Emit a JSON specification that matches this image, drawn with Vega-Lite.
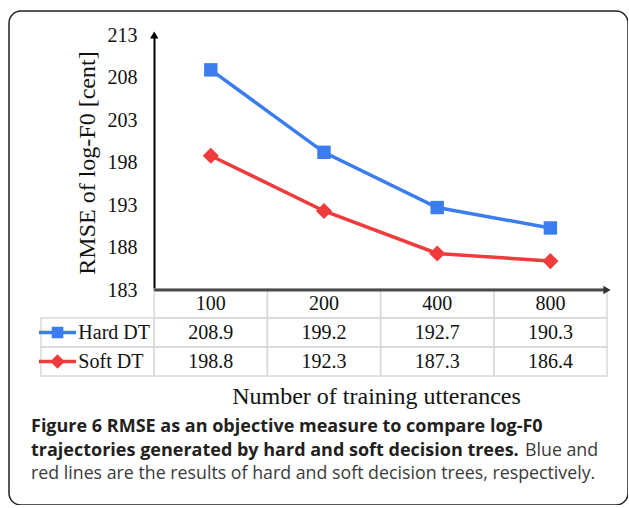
{
  "$schema": "https://vega.github.io/schema/vega-lite/v6.json",
  "width": 619,
  "height": 494,
  "padding": {"left": 9, "top": 11, "right": 0, "bottom": 0},
  "background": "white",
  "config": {
    "view": {"stroke": "#222222", "strokeWidth": 1.5, "cornerRadius": 12},
    "axis": {"grid": false}
  },
  "datasets": {
    "rmse": [
      {"n": "100", "series": "Hard DT", "rmse": 208.9},
      {"n": "200", "series": "Hard DT", "rmse": 199.2},
      {"n": "400", "series": "Hard DT", "rmse": 192.7},
      {"n": "800", "series": "Hard DT", "rmse": 190.3},
      {"n": "100", "series": "Soft DT", "rmse": 198.8},
      {"n": "200", "series": "Soft DT", "rmse": 192.3},
      {"n": "400", "series": "Soft DT", "rmse": 187.3},
      {"n": "800", "series": "Soft DT", "rmse": 186.4}
    ],
    "header": [{"n": "100"}, {"n": "200"}, {"n": "400"}, {"n": "800"}],
    "caption": [
      {"line": 1, "seg": "a", "w": "bold", "text": "Figure 6 RMSE as an objective measure to compare log-F0"},
      {"line": 2, "seg": "a", "w": "bold", "text": "trajectories generated by hard and soft decision trees."},
      {"line": 2, "seg": "b", "w": "normal", "text": "Blue and"},
      {"line": 3, "seg": "a", "w": "normal", "text": "red lines are the results of hard and soft decision trees, respectively."}
    ],
    "one": [{}]
  },
  "resolve": {"scale": {"x": "independent", "y": "independent", "shape": "independent", "size": "independent"}},
  "layer": [
    {
      "data": {"name": "rmse"},
      "mark": {"type": "rect", "fill": "white", "fillOpacity": 0, "stroke": "#d9d9d9", "strokeWidth": 1.5},
      "encoding": {
        "x": {"field": "n", "type": "nominal",
          "scale": {"type": "band", "domain": ["lbl", "100", "200", "400", "800"], "range": [32, 598], "paddingInner": 0, "paddingOuter": 0},
          "axis": {"orient": "bottom", "offset": -129, "labels": false, "ticks": false, "domain": false,
            "title": "Number of training utterances", "titleFont": "Liberation Serif", "titleFontSize": 24,
            "titleFontWeight": "normal", "titleColor": "#111111", "titlePadding": 8, "titleX": 367}},
        "y": {"field": "series", "type": "nominal",
          "scale": {"type": "band", "domain": ["hdr", "Hard DT", "Soft DT"], "range": [278, 365], "paddingInner": 0, "paddingOuter": 0},
          "axis": null}
      }
    },
    {
      "data": {"name": "header"},
      "mark": {"type": "rect", "fill": "white", "fillOpacity": 0, "stroke": "#d9d9d9", "strokeWidth": 1.5},
      "encoding": {
        "x": {"field": "n", "type": "nominal",
          "scale": {"type": "band", "domain": ["lbl", "100", "200", "400", "800"], "range": [32, 598], "paddingInner": 0, "paddingOuter": 0},
          "axis": null},
        "y": {"datum": "hdr", "type": "nominal",
          "scale": {"type": "band", "domain": ["hdr", "Hard DT", "Soft DT"], "range": [278, 365], "paddingInner": 0, "paddingOuter": 0},
          "axis": null}
      }
    },
    {
      "data": {"name": "rmse"},
      "transform": [{"filter": "datum.n == '100'"}],
      "mark": {"type": "rect", "fill": "white", "fillOpacity": 0, "stroke": "#d9d9d9", "strokeWidth": 1.5},
      "encoding": {
        "x": {"datum": "lbl", "type": "nominal",
          "scale": {"type": "band", "domain": ["lbl", "100", "200", "400", "800"], "range": [32, 598], "paddingInner": 0, "paddingOuter": 0},
          "axis": null},
        "y": {"field": "series", "type": "nominal",
          "scale": {"type": "band", "domain": ["hdr", "Hard DT", "Soft DT"], "range": [278, 365], "paddingInner": 0, "paddingOuter": 0},
          "axis": null}
      }
    },
    {
      "data": {"name": "rmse"},
      "mark": {"type": "text", "font": "Liberation Serif", "fontSize": 20, "color": "#111111", "baseline": "middle"},
      "encoding": {
        "x": {"field": "n", "type": "nominal",
          "scale": {"type": "band", "domain": ["lbl", "100", "200", "400", "800"], "range": [32, 598], "paddingInner": 0, "paddingOuter": 0},
          "axis": null},
        "y": {"field": "series", "type": "nominal",
          "scale": {"type": "band", "domain": ["hdr", "Hard DT", "Soft DT"], "range": [278, 365], "paddingInner": 0, "paddingOuter": 0},
          "axis": null},
        "text": {"field": "rmse", "type": "quantitative", "format": ".1f"}
      }
    },
    {
      "data": {"name": "header"},
      "mark": {"type": "text", "font": "Liberation Serif", "fontSize": 20, "color": "#111111", "baseline": "middle"},
      "encoding": {
        "x": {"field": "n", "type": "nominal",
          "scale": {"type": "band", "domain": ["lbl", "100", "200", "400", "800"], "range": [32, 598], "paddingInner": 0, "paddingOuter": 0},
          "axis": null},
        "y": {"datum": "hdr", "type": "nominal",
          "scale": {"type": "band", "domain": ["hdr", "Hard DT", "Soft DT"], "range": [278, 365], "paddingInner": 0, "paddingOuter": 0},
          "axis": null},
        "text": {"field": "n", "type": "nominal"}
      }
    },
    {
      "data": {"name": "rmse"},
      "transform": [{"filter": "datum.n == '100'"}],
      "mark": {"type": "text", "font": "Liberation Serif", "fontSize": 20, "color": "#111111", "baseline": "middle", "align": "left"},
      "encoding": {
        "x": {"datum": "lbl", "type": "nominal", "bandPosition": 0.33,
          "scale": {"type": "band", "domain": ["lbl", "100", "200", "400", "800"], "range": [32, 598], "paddingInner": 0, "paddingOuter": 0},
          "axis": null},
        "y": {"field": "series", "type": "nominal",
          "scale": {"type": "band", "domain": ["hdr", "Hard DT", "Soft DT"], "range": [278, 365], "paddingInner": 0, "paddingOuter": 0},
          "axis": null},
        "text": {"field": "series", "type": "nominal"}
      }
    },
    {
      "data": {"name": "rmse"},
      "transform": [{"filter": "datum.n == '100'"}],
      "mark": {"type": "point", "filled": true, "size": 1369, "strokeWidth": 3.5, "opacity": 1},
      "encoding": {
        "x": {"datum": "lbl", "type": "nominal", "bandPosition": 0.146,
          "scale": {"type": "band", "domain": ["lbl", "100", "200", "400", "800"], "range": [32, 598], "paddingInner": 0, "paddingOuter": 0},
          "axis": null},
        "y": {"field": "series", "type": "nominal",
          "scale": {"type": "band", "domain": ["hdr", "Hard DT", "Soft DT"], "range": [278, 365], "paddingInner": 0, "paddingOuter": 0},
          "axis": null},
        "shape": {"field": "series", "type": "nominal", "legend": null,
          "scale": {"domain": ["Hard DT", "Soft DT"], "range": ["M-1,0H1M-0.22,-0.22H0.22V0.22H-0.22Z", "M-1,0H1M0,-0.26L0.26,0L0,0.26L-0.26,0Z"]}},
        "color": {"field": "series", "type": "nominal", "legend": null,
          "scale": {"domain": ["Hard DT", "Soft DT"], "range": ["#3b7def", "#ef3b3b"]}},
        "stroke": {"field": "series", "type": "nominal", "legend": null,
          "scale": {"domain": ["Hard DT", "Soft DT"], "range": ["#3b7def", "#ef3b3b"]}}
      }
    },
    {
      "data": {"name": "one"},
      "mark": {"type": "rule", "color": "#4a4a4a", "strokeWidth": 3},
      "encoding": {
        "x": {"datum": "100", "type": "nominal", "bandPosition": 0,
          "scale": {"type": "band", "domain": ["lbl", "100", "200", "400", "800"], "range": [32, 598], "paddingInner": 0, "paddingOuter": 0},
          "axis": null},
        "x2": {"datum": "800", "bandPosition": 1},
        "y": {"datum": 183, "type": "quantitative",
          "scale": {"domain": [183, 213], "range": [279, 24], "nice": false, "zero": false},
          "axis": null}
      }
    },
    {
      "data": {"name": "one"},
      "mark": {"type": "point", "shape": "triangle-right", "filled": true, "size": 70, "color": "#333333", "opacity": 1},
      "encoding": {
        "x": {"datum": "800", "type": "nominal", "bandPosition": 1,
          "scale": {"type": "band", "domain": ["lbl", "100", "200", "400", "800"], "range": [32, 598], "paddingInner": 0, "paddingOuter": 0},
          "axis": null},
        "y": {"datum": 183, "type": "quantitative",
          "scale": {"domain": [183, 213], "range": [279, 24], "nice": false, "zero": false},
          "axis": null}
      }
    },
    {
      "data": {"name": "one"},
      "mark": {"type": "point", "shape": "triangle-up", "filled": true, "size": 70, "color": "#000000", "opacity": 1},
      "encoding": {
        "x": {"datum": "100", "type": "nominal", "bandPosition": 0,
          "scale": {"type": "band", "domain": ["lbl", "100", "200", "400", "800"], "range": [32, 598], "paddingInner": 0, "paddingOuter": 0},
          "axis": null},
        "y": {"datum": 213, "type": "quantitative",
          "scale": {"domain": [183, 213], "range": [279, 24], "nice": false, "zero": false},
          "axis": null}
      }
    },
    {
      "data": {"name": "rmse"},
      "mark": {"type": "line", "strokeWidth": 3.5},
      "encoding": {
        "x": {"field": "n", "type": "nominal",
          "scale": {"type": "band", "domain": ["lbl", "100", "200", "400", "800"], "range": [32, 598], "paddingInner": 0, "paddingOuter": 0},
          "axis": null},
        "y": {"field": "rmse", "type": "quantitative",
          "scale": {"domain": [183, 213], "range": [279, 24], "nice": false, "zero": false},
          "axis": {"orient": "left", "offset": -145, "values": [183, 188, 193, 198, 203, 208, 213], "ticks": false,
            "labelPadding": 17, "domainColor": "#000000", "domainWidth": 2, "labelFont": "Liberation Serif",
            "labelFontSize": 20, "labelColor": "#111111", "title": "RMSE of log-F0 [cent]", "titleFont": "Liberation Serif",
            "titleFontSize": 24, "titleFontWeight": "normal", "titleColor": "#111111", "titlePadding": 8, "grid": false}},
        "color": {"field": "series", "type": "nominal", "legend": null,
          "scale": {"domain": ["Hard DT", "Soft DT"], "range": ["#3b7def", "#ef3b3b"]}}
      }
    },
    {
      "data": {"name": "rmse"},
      "mark": {"type": "point", "filled": true, "opacity": 1},
      "encoding": {
        "x": {"field": "n", "type": "nominal",
          "scale": {"type": "band", "domain": ["lbl", "100", "200", "400", "800"], "range": [32, 598], "paddingInner": 0, "paddingOuter": 0},
          "axis": null},
        "y": {"field": "rmse", "type": "quantitative",
          "scale": {"domain": [183, 213], "range": [279, 24], "nice": false, "zero": false},
          "axis": null},
        "shape": {"field": "series", "type": "nominal", "legend": null,
          "scale": {"domain": ["Hard DT", "Soft DT"], "range": ["square", "diamond"]}},
        "size": {"field": "series", "type": "ordinal", "legend": null,
          "scale": {"domain": ["Hard DT", "Soft DT"], "range": [180, 260]}},
        "color": {"field": "series", "type": "nominal", "legend": null,
          "scale": {"domain": ["Hard DT", "Soft DT"], "range": ["#3b7def", "#ef3b3b"]}}
      }
    },
    {
      "data": {"name": "caption"},
      "transform": [{"filter": "datum.w == 'bold'"}],
      "mark": {"type": "text", "font": "Open Sans", "fontSize": 18, "fontWeight": "bold", "color": "#231f20", "align": "left", "baseline": "middle"},
      "encoding": {
        "x": {"field": "seg", "type": "nominal", "scale": {"type": "point", "domain": ["a", "b"], "range": [22, 516], "padding": 0}, "axis": null},
        "y": {"field": "line", "type": "ordinal", "scale": {"type": "point", "domain": [1, 2, 3], "range": [416, 463], "padding": 0}, "axis": null},
        "text": {"field": "text", "type": "nominal"}
      }
    },
    {
      "data": {"name": "caption"},
      "transform": [{"filter": "datum.w == 'normal'"}],
      "mark": {"type": "text", "font": "Open Sans", "fontSize": 17.8, "color": "#3a3a3a", "align": "left", "baseline": "middle"},
      "encoding": {
        "x": {"field": "seg", "type": "nominal", "scale": {"type": "point", "domain": ["a", "b"], "range": [22, 516], "padding": 0}, "axis": null},
        "y": {"field": "line", "type": "ordinal", "scale": {"type": "point", "domain": [1, 2, 3], "range": [416, 463], "padding": 0}, "axis": null},
        "text": {"field": "text", "type": "nominal"}
      }
    }
  ]
}
